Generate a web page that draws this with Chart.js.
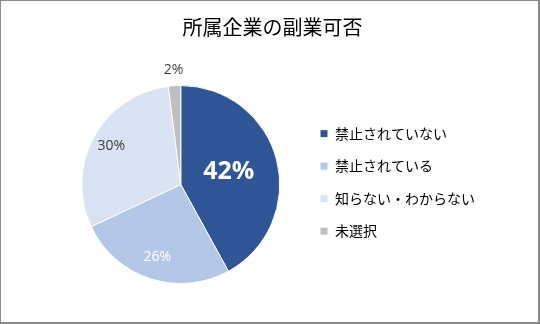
<!DOCTYPE html>
<html><head><meta charset="utf-8">
<script src="https://cdn.jsdelivr.net/npm/chart.js@4.4.1/dist/chart.umd.min.js"></script>
<style>
html,body{margin:0;padding:0;background:#fff;}
#wrap{position:relative;width:540px;height:324px;}
#frame{position:absolute;left:0;top:0;width:537px;height:321px;border-left:1px solid #8a8a8a;border-top:1px solid #8a8a8a;border-right:2px solid #8a8a8a;border-bottom:2px solid #8a8a8a;pointer-events:none;}
canvas{position:absolute;left:0;top:0;}
</style></head>
<body>
<div id="wrap"><canvas id="c" width="540" height="324"></canvas><div id="frame"></div></div>
<script>
const title = "所属企業の副業可否";
const categories = ["禁止されていない", "禁止されている", "知らない・わからない", "未選択"];
const values = [42, 26, 30, 2];
const valueLabels = ["42%", "26%", "30%", "2%"];
const colors = ["#2F5597", "#B4C7E7", "#DAE3F3", "#BFBFBF"];

const jp = "'Noto Sans CJK JP', 'Noto Sans', sans-serif";
const num = "'Open Sans', 'Liberation Sans', sans-serif";

const labelStyle = [
  {r: 0.5, font: "bold 25px " + num, color: "#ffffff"},
  {r: 0.77, font: "14px " + num, color: "#ffffff"},
  {r: 0.80, font: "14px " + num, color: "#404040"},
  {r: 1.16, font: "14px " + num, color: "#404040"}
];

const labelPlugin = {
  id: 'pieLabels',
  afterDatasetsDraw(chart) {
    const ctx = chart.ctx;
    const meta = chart.getDatasetMeta(0);
    meta.data.forEach((arc, i) => {
      const p = arc.getProps(['x','y','startAngle','endAngle','outerRadius'], true);
      const mid = (p.startAngle + p.endAngle) / 2;
      const st = labelStyle[i];
      const rr = p.outerRadius * st.r;
      const x = p.x + Math.cos(mid) * rr;
      const y = p.y + Math.sin(mid) * rr;
      ctx.save();
      ctx.font = st.font;
      ctx.fillStyle = st.color;
      ctx.textAlign = 'center';
      ctx.textBaseline = 'middle';
      ctx.fillText(valueLabels[i], x, y);
      ctx.restore();
    });
  }
};

new Chart(document.getElementById('c'), {
  type: 'pie',
  data: {
    labels: categories,
    datasets: [{
      data: values,
      backgroundColor: colors,
      borderColor: '#ffffff',
      borderWidth: 1
    }]
  },
  options: {
    responsive: false,
    animation: false,
    layout: {padding: {left: 60, right: 55, top: 0, bottom: 40}},
    plugins: {
      title: {
        display: true,
        text: title,
        color: '#000000',
        font: {family: jp, size: 20, weight: 'normal'},
        padding: {top: 15, bottom: 46}
      },
      legend: {
        position: 'right',
        title: {
          display: true,
          text: ' ',
          font: {family: jp, size: 14},
          padding: {top: 0, bottom: 64}
        },
        labels: {
          color: '#000000',
          font: {family: jp, size: 14},
          boxWidth: 8,
          boxHeight: 8,
          padding: 18.5
        }
      },
      tooltip: {enabled: false}
    }
  },
  plugins: [labelPlugin]
});
</script>
</body></html>
